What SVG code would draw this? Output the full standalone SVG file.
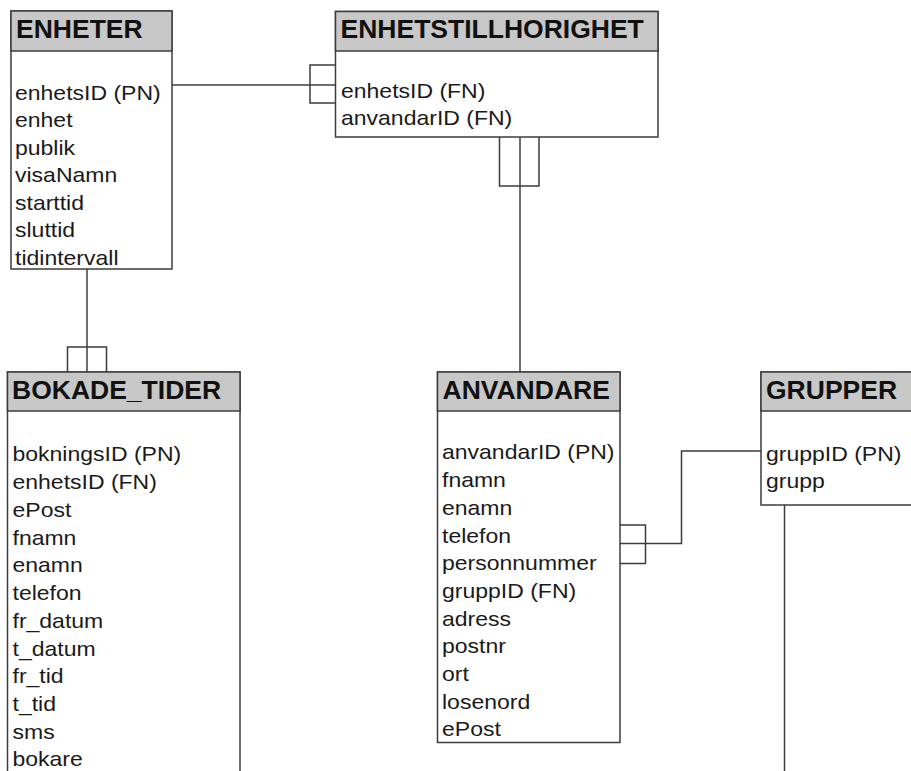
<svg xmlns="http://www.w3.org/2000/svg" width="911" height="771" viewBox="0 0 911 771">
<style>
.box{fill:#ffffff;stroke:#3c3c3c;stroke-width:1.5}
.hdr{fill:#c8c8c8;stroke:#3c3c3c;stroke-width:1.5}
.title{font-family:"Liberation Sans",Arial,sans-serif;font-weight:bold;font-size:26.5px;fill:#111}
.attr{font-family:"Liberation Sans",Arial,sans-serif;font-size:20px;fill:#1a1a1a}
.conn{fill:none;stroke:#3c3c3c;stroke-width:1.5}
</style>
<rect width="911" height="771" fill="#ffffff"/>
<g id="connectors">
  <path class="conn" d="M172,85 H335.5"/>
  <path class="conn" d="M335.5,65 H310 V103 H335.5"/>
  <path class="conn" d="M520,137 V372"/>
  <path class="conn" d="M499.5,137 V186 H539 V137"/>
  <path class="conn" d="M87,269 V372"/>
  <path class="conn" d="M67.5,372 V347 H106.5 V372"/>
  <path class="conn" d="M620,543.5 H681.5 V451 H761"/>
  <path class="conn" d="M620,525 H645.5 V563.5 H620"/>
  <path class="conn" d="M784.5,505 V775"/>
</g>
<g id="ENHETER">
  <rect class="box" x="11" y="11" width="161" height="258"/>
  <rect class="hdr" x="11" y="11" width="161" height="40"/>
  <text class="title" x="16" y="37.5">ENHETER</text>
  <g transform="translate(15 0) scale(1.15 1)">
    <text class="attr"><tspan x="0" y="100">enhetsID (PN)</tspan><tspan x="0" y="127.5">enhet</tspan><tspan x="0" y="155">publik</tspan><tspan x="0" y="182.5">visaNamn</tspan><tspan x="0" y="210">starttid</tspan><tspan x="0" y="237.5">sluttid</tspan><tspan x="0" y="265">tidintervall</tspan></text>
  </g>
</g>
<g id="ENHETSTILLHORIGHET">
  <rect class="box" x="335.5" y="11.5" width="322.5" height="125.5"/>
  <rect class="hdr" x="335.5" y="11.5" width="322.5" height="39.5"/>
  <text class="title" x="340.5" y="37.5">ENHETSTILLHORIGHET</text>
  <g transform="translate(341 0) scale(1.15 1)">
    <text class="attr"><tspan x="0" y="98">enhetsID (FN)</tspan><tspan x="0" y="125.5">anvandarID (FN)</tspan></text>
  </g>
</g>
<g id="BOKADE_TIDER">
  <rect class="box" x="7.5" y="372" width="232.5" height="420"/>
  <rect class="hdr" x="7.5" y="372" width="232.5" height="39"/>
  <text class="title" x="12" y="398.5">BOKADE_TIDER</text>
  <g transform="translate(12.5 0) scale(1.15 1)">
    <text class="attr"><tspan x="0" y="461.5">bokningsID (PN)</tspan><tspan x="0" y="489.2">enhetsID (FN)</tspan><tspan x="0" y="517">ePost</tspan><tspan x="0" y="544.7">fnamn</tspan><tspan x="0" y="572.4">enamn</tspan><tspan x="0" y="600.1">telefon</tspan><tspan x="0" y="627.9">fr_datum</tspan><tspan x="0" y="655.6">t_datum</tspan><tspan x="0" y="683.3">fr_tid</tspan><tspan x="0" y="711">t_tid</tspan><tspan x="0" y="738.8">sms</tspan><tspan x="0" y="766.5">bokare</tspan></text>
  </g>
</g>
<g id="ANVANDARE">
  <rect class="box" x="437.5" y="372" width="182.5" height="370.5"/>
  <rect class="hdr" x="437.5" y="372" width="182.5" height="39"/>
  <text class="title" x="442.5" y="398.5">ANVANDARE</text>
  <g transform="translate(442 0) scale(1.15 1)">
    <text class="attr"><tspan x="0" y="459.5">anvandarID (PN)</tspan><tspan x="0" y="487.2">fnamn</tspan><tspan x="0" y="514.9">enamn</tspan><tspan x="0" y="542.6">telefon</tspan><tspan x="0" y="570.3">personnummer</tspan><tspan x="0" y="598">gruppID (FN)</tspan><tspan x="0" y="625.7">adress</tspan><tspan x="0" y="653.4">postnr</tspan><tspan x="0" y="681.1">ort</tspan><tspan x="0" y="708.8">losenord</tspan><tspan x="0" y="736.5">ePost</tspan></text>
  </g>
</g>
<g id="GRUPPER">
  <rect class="box" x="761" y="372" width="170" height="133"/>
  <rect class="hdr" x="761" y="372" width="170" height="39"/>
  <text class="title" x="766" y="398.5">GRUPPER</text>
  <g transform="translate(766 0) scale(1.15 1)">
    <text class="attr"><tspan x="0" y="461">gruppID (PN)</tspan><tspan x="0" y="488.5">grupp</tspan></text>
  </g>
</g>
</svg>
